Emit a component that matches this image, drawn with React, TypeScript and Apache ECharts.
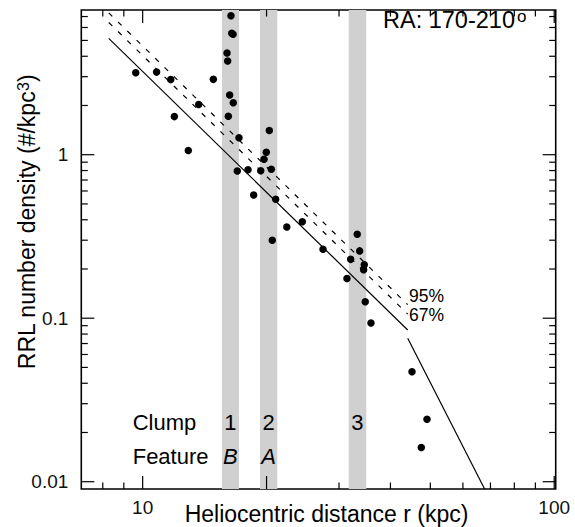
import React, { useEffect, useRef } from "react";
import * as echarts from "echarts";

// ---- axis extents (kpc, #/kpc^3) ----
const X_MIN = 7.094;
const X_MAX = 100.84;
const Y_MIN = 0.009024;
const Y_MAX = 7.674;

// ---- tick values ----
const xMajorTicksBottom = [10, 20, 100];
const xMinorTicksBottom = [8, 9, 30, 40, 50, 60, 70, 80, 90];
const xMajorTicksTop = [10, 100];
const xMinorTicksTop = [8, 9, 20, 30, 40, 50, 60, 70, 80, 90];
const yMajorTicks = [0.01, 0.1, 1];
const yMinorTicks = [0.02, 0.03, 0.04, 0.05, 0.06, 0.07, 0.08, 0.09, 0.2, 0.3, 0.4, 0.5, 0.6, 0.7, 0.8, 0.9, 2, 3, 4, 5, 6, 7];

// ---- RRL density points: [r (kpc), density] ----
const rrlDistance = [
  9.62, 10.81, 11.70, 11.94, 12.91, 13.68, 14.85, 16.39, 16.46, 16.58,
  16.03, 16.09, 16.27, 16.60, 16.15, 17.14, 16.98, 18.03, 18.61, 19.36,
  19.72, 19.97, 20.31, 20.54, 21.05, 20.65, 22.40, 24.43, 27.43, 33.22,
  33.67, 32.02, 34.55, 34.43, 31.36, 34.74, 35.87, 45.13, 49.08, 47.54,
];
const rrlDensity = [
  3.17, 3.20, 2.88, 1.71, 1.06, 2.03, 2.89, 7.08, 5.53, 5.45,
  4.19, 3.74, 2.32, 2.08, 1.72, 1.27, 0.795, 0.81, 0.567, 0.798,
  0.937, 1.034, 1.406, 0.814, 0.534, 0.300, 0.361, 0.389, 0.264, 0.326,
  0.258, 0.229, 0.212, 0.198, 0.175, 0.126, 0.0935, 0.0471, 0.0241, 0.0162,
];

// ---- power-law fits: endpoints [r, density] ----
const fitInner = [[8.27, 5.15], [44.06, 0.0847]];
const fitOuter = [[44.06, 0.0753], [67.8, 0.0090]];
const conf95 = [[8.27, 7.37], [44.06, 0.121]];
const conf67 = [[8.27, 6.44], [44.06, 0.106]];

// ---- clump bands ----
const bandStart = [15.58, 19.28, 31.67];
const bandEnd = [17.14, 21.24, 34.94];
const clumpNames = ["1", "2", "3"];
const featureNames = ["B", "A", ""];

const FONT = "'Liberation Sans', Arial, Helvetica, sans-serif";

function isPow10(v: number) {
  const l = Math.log10(v);
  return Math.abs(l - Math.round(l)) < 1e-6;
}

export default function App() {
  const ref = useRef<HTMLDivElement>(null);
  useEffect(() => {
    if (!ref.current) return;
    const chart = echarts.init(ref.current, undefined, { renderer: "svg" });

    const tickData: number[][] = [];
    xMajorTicksBottom.forEach((v) => tickData.push([v, Y_MIN, 0, 1]));
    xMinorTicksBottom.forEach((v) => tickData.push([v, Y_MIN, 0, 0]));
    xMajorTicksTop.forEach((v) => tickData.push([v, Y_MAX, 1, 1]));
    xMinorTicksTop.forEach((v) => tickData.push([v, Y_MAX, 1, 0]));
    yMajorTicks.forEach((v) => {
      tickData.push([X_MIN, v, 2, 1]);
      tickData.push([X_MAX, v, 3, 1]);
    });
    yMinorTicks.forEach((v) => {
      tickData.push([X_MIN, v, 2, 0]);
      tickData.push([X_MAX, v, 3, 0]);
    });

    const points = rrlDistance.map((r, i) => [r, rrlDensity[i]]);

    const labelFmt = (v: number) =>
      isPow10(v) ? String(Number(v.toPrecision(6))) : "";

    const option: any = {
      animation: false,
      backgroundColor: "#ffffff",
      grid: {
        left: 81.3,
        top: 10,
        right: 19.3,
        bottom: 38,
        show: true,
        borderColor: "#000",
        borderWidth: 1.6,
        backgroundColor: "transparent",
      },
      xAxis: {
        type: "log",
        logBase: 10,
        min: X_MIN,
        max: X_MAX,
        axisLine: { show: false },
        axisTick: { show: false },
        splitLine: { show: false },
        axisLabel: {
          formatter: labelFmt,
          fontFamily: FONT,
          fontSize: 19,
          color: "#111",
          margin: 9,
          showMinLabel: true,
          showMaxLabel: true,
        },
      },
      yAxis: {
        type: "log",
        logBase: 10,
        min: Y_MIN,
        max: Y_MAX,
        axisLine: { show: false },
        axisTick: { show: false },
        splitLine: { show: false },
        axisLabel: {
          formatter: labelFmt,
          fontFamily: FONT,
          fontSize: 19,
          color: "#111",
          margin: 13,
        },
      },
      series: [
        {
          type: "line",
          data: fitInner,
          symbol: "none",
          lineStyle: { color: "#000", width: 1.2 },
          z: 3,
        },
        {
          type: "line",
          data: fitOuter,
          symbol: "none",
          lineStyle: { color: "#000", width: 1.2 },
          z: 3,
        },
        {
          type: "line",
          data: conf95,
          symbol: "none",
          lineStyle: { color: "#000", width: 1.2, type: [5, 8] },
          z: 3,
        },
        {
          type: "line",
          data: conf67,
          symbol: "none",
          lineStyle: { color: "#000", width: 1.2, type: [5, 8] },
          z: 3,
        },
        {
          type: "scatter",
          data: points,
          symbol: "circle",
          symbolSize: 7.5,
          itemStyle: { color: "#000", opacity: 1 },
          z: 4,
          markArea: {
            silent: true,
            z: 1,
            itemStyle: { color: "#d0d0d0", opacity: 1 },
            label: {
              show: true,
              position: "insideBottom",
              distance: 0,
              offset: [0, -15.6],
              color: "#000",
              fontFamily: FONT,
              fontSize: 22,
              lineHeight: 34,
              rich: {
                n: { fontFamily: FONT, fontSize: 22, lineHeight: 34, color: "#000" },
                f: { fontFamily: FONT, fontSize: 22, lineHeight: 34, color: "#000", fontStyle: "italic" },
              },
            },
            data: bandStart.map((s, i) => [
              {
                xAxis: s,
                label: {
                  formatter: `{n|${clumpNames[i]}}\n{f|${featureNames[i] || "\u00a0"}}`,
                },
              },
              { xAxis: bandEnd[i] },
            ]),
          },
        },
        {
          type: "custom",
          data: tickData,
          encode: { x: 0, y: 1 },
          clip: false,
          silent: true,
          z: 10,
          renderItem: (params: any, api: any) => {
            const p = api.coord([api.value(0), api.value(1)]);
            const side = api.value(2);
            const len = api.value(3) ? 13 : 6.5;
            let x2 = p[0];
            let y2 = p[1];
            if (side === 0) y2 = p[1] - len;
            else if (side === 1) y2 = p[1] + len;
            else if (side === 2) x2 = p[0] + len;
            else x2 = p[0] - len;
            return {
              type: "line",
              shape: { x1: p[0], y1: p[1], x2, y2 },
              style: { stroke: "#000", lineWidth: 1.2 },
            };
          },
        },
      ],
      graphic: [
        {
          type: "text",
          x: 326.5,
          y: 514,
          style: {
            text: "Heliocentric distance r (kpc)",
            fontFamily: FONT,
            fontSize: 23,
            fill: "#000",
            align: "center",
            verticalAlign: "middle",
          },
        },
        {
          type: "text",
          x: 27,
          y: 222,
          rotation: Math.PI / 2,
          style: {
            text: "RRL number density (#/kpc{s|3})",
            fontFamily: FONT,
            fontSize: 23,
            fill: "#000",
            align: "center",
            verticalAlign: "middle",
            rich: {
              s: { fontFamily: FONT, fontSize: 16, verticalAlign: "top", fill: "#000" },
            },
          },
        },
        {
          type: "text",
          x: 383,
          y: 20,
          style: {
            text: "RA: 170-210{s|o}",
            fontFamily: FONT,
            fontSize: 23.5,
            fill: "#000",
            align: "left",
            verticalAlign: "middle",
            rich: {
              s: { fontFamily: FONT, fontSize: 17, verticalAlign: "top", fill: "#000", padding: [0, 0, 0, 2] },
            },
          },
        },
        {
          type: "text",
          x: 132.7,
          y: 422.4,
          style: {
            text: "Clump",
            fontFamily: FONT,
            fontSize: 22,
            fill: "#000",
            align: "left",
            verticalAlign: "middle",
          },
        },
        {
          type: "text",
          x: 132.7,
          y: 456.4,
          style: {
            text: "Feature",
            fontFamily: FONT,
            fontSize: 22,
            fill: "#000",
            align: "left",
            verticalAlign: "middle",
          },
        },
        {
          type: "text",
          x: 409,
          y: 295.5,
          style: {
            text: "95%",
            fontFamily: FONT,
            fontSize: 17.5,
            fill: "#000",
            align: "left",
            verticalAlign: "middle",
          },
        },
        {
          type: "text",
          x: 409,
          y: 314.5,
          style: {
            text: "67%",
            fontFamily: FONT,
            fontSize: 17.5,
            fill: "#000",
            align: "left",
            verticalAlign: "middle",
          },
        },
      ],
    };

    chart.setOption(option);
    return () => chart.dispose();
  }, []);

  return (
    <div
      ref={ref}
      style={{ position: "fixed", left: 0, top: 0, width: 575, height: 527, background: "#fff" }}
    />
  );
}
